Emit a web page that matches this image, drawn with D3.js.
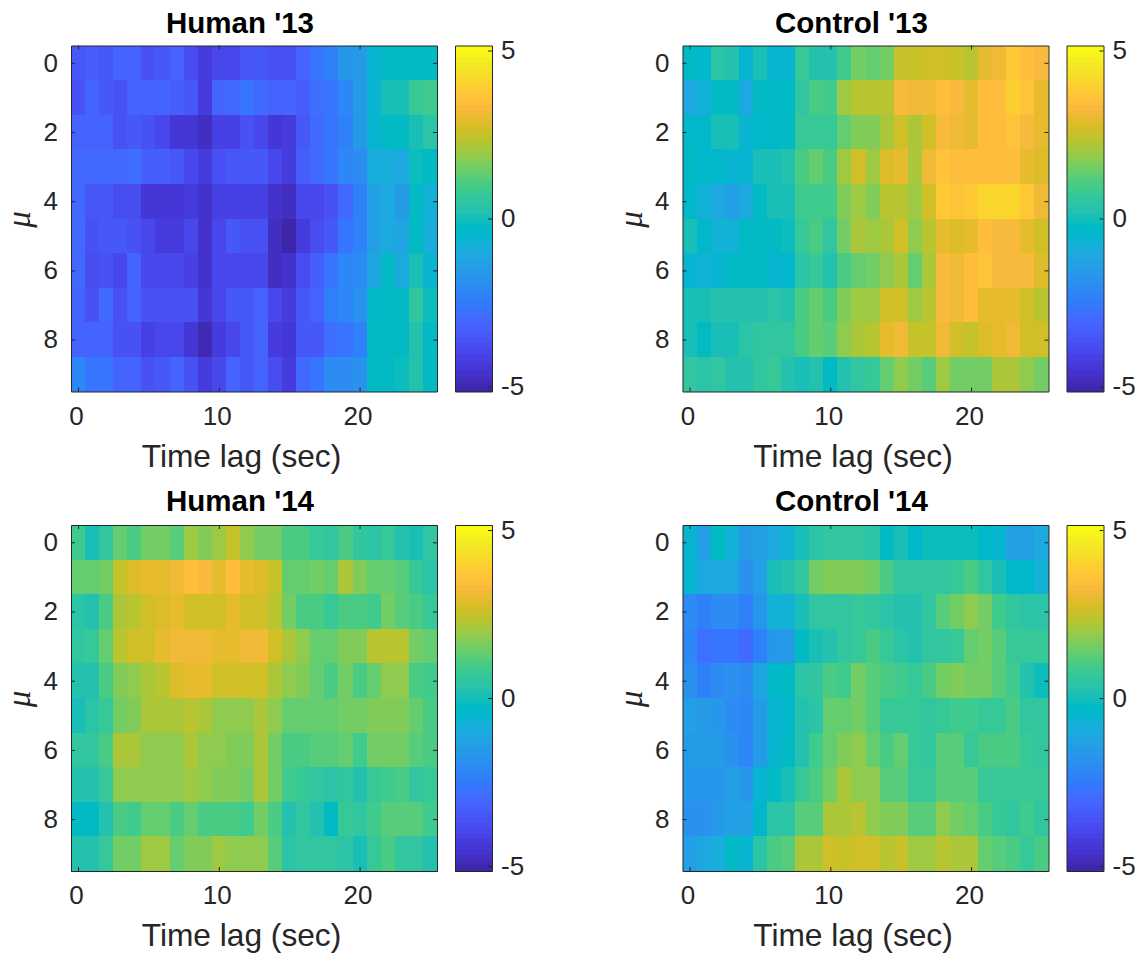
<!DOCTYPE html>
<html lang="en">
<head>
<meta charset="UTF-8">
<title>Time lag heatmaps</title>
<script src="https://d3js.org/d3.v7.min.js"></script>
<style>
    html, body { margin: 0; padding: 0; background: #fff; }
    svg { display: block; font-family: "Liberation Sans", Arial, sans-serif; }
    .tick text { fill: #262626; font-size: 26px; }
    .tick line, .domain { stroke: #262626; stroke-width: 1px; }
    .cell { shape-rendering: crispEdges; }
    .title { font-size: 29.5px; font-weight: bold; fill: #000; text-anchor: middle; }
    .label { font-size: 31.7px; fill: #262626; text-anchor: middle; }
    .mu { font-family: "Liberation Serif", serif; font-style: italic; font-size: 33px; fill: #262626; text-anchor: middle; }
</style>
</head>
<body>
<div id="chart"></div>
<script>
// parula, 64 levels
const parula = [[.2422,.1504,.6603],[.2504,.1650,.7076],[.2578,.1818,.7511],[.2647,.1978,.7952],[.2706,.2147,.8364],[.2751,.2342,.8710],[.2783,.2559,.8991],[.2803,.2782,.9221],[.2813,.3006,.9414],[.2810,.3228,.9579],[.2795,.3447,.9717],[.2760,.3667,.9829],[.2699,.3892,.9906],[.2602,.4123,.9952],[.2440,.4358,.9988],[.2206,.4603,.9973],[.1963,.4847,.9892],[.1834,.5074,.9798],[.1786,.5289,.9682],[.1764,.5499,.9520],[.1687,.5703,.9359],[.1540,.5902,.9218],[.1460,.6091,.9079],[.1380,.6276,.8973],[.1248,.6459,.8883],[.1113,.6635,.8763],[.0952,.6798,.8598],[.0689,.6948,.8394],[.0297,.7082,.8163],[.0036,.7203,.7917],[.0067,.7312,.7660],[.0433,.7411,.7394],[.0964,.7500,.7120],[.1408,.7584,.6842],[.1717,.7670,.6554],[.1938,.7758,.6251],[.2161,.7843,.5923],[.2470,.7918,.5567],[.2906,.7973,.5188],[.3406,.8008,.4789],[.3909,.8029,.4354],[.4456,.8024,.3909],[.5044,.7993,.3480],[.5616,.7942,.3045],[.6174,.7876,.2612],[.6720,.7793,.2227],[.7242,.7698,.1910],[.7738,.7598,.1646],[.8203,.7498,.1535],[.8634,.7406,.1596],[.9035,.7330,.1774],[.9393,.7288,.2100],[.9728,.7298,.2394],[.9956,.7434,.2371],[.9970,.7659,.2199],[.9952,.7893,.2028],[.9892,.8136,.1885],[.9786,.8386,.1766],[.9676,.8639,.1643],[.9610,.8890,.1537],[.9597,.9135,.1423],[.9628,.9373,.1265],[.9691,.9606,.1064],[.9769,.9839,.0805]]
    .map(c => d3.rgb(c[0] * 255, c[1] * 255, c[2] * 255).formatHex());

const lags = d3.range(26);
const mus = d3.range(10);
const xTicks = [0, 10, 20];
const yTicks = [0, 2, 4, 6, 8];
const barTicks = [-5, 0, 5];
const colorLimits = [-5.15, 5.15];

const human13 = [
    [-3.5,-3.3,-3.5,-3.2,-3.2,-3.7,-3.4,-3.1,-3.8,-4.2,-4.0,-4.0,-3.5,-3.5,-3.6,-3.6,-3.1,-2.6,-2.3,-1.7,-1.5,-0.5,-0.3,-0.3,-0.3,-0.3],
    [-3.7,-3.2,-3.4,-3.7,-3.1,-3.2,-3.2,-3.3,-3.5,-4.2,-3.2,-3.0,-2.6,-2.9,-3.2,-3.2,-3.3,-2.8,-2.6,-2.2,-1.6,-0.5,0.1,0.1,0.7,0.9],
    [-3.2,-3.2,-3.2,-3.7,-3.4,-3.7,-4.0,-4.4,-4.4,-4.8,-4.1,-4.1,-3.7,-4.0,-4.4,-4.2,-3.4,-2.9,-2.7,-2.4,-1.6,-0.6,-0.3,-0.3,0.1,0.4],
    [-2.9,-3.0,-3.0,-3.0,-2.8,-3.3,-3.3,-3.5,-3.9,-4.3,-3.6,-3.5,-3.4,-3.4,-4.0,-4.2,-3.3,-2.9,-2.7,-2.2,-2.0,-0.9,-0.9,-1.0,-0.1,-0.3],
    [-3.0,-3.4,-3.4,-3.8,-3.8,-4.4,-4.4,-4.5,-4.2,-4.6,-4.1,-4.1,-4.1,-4.1,-4.6,-4.8,-4.0,-4.0,-3.7,-2.9,-2.3,-1.4,-1.1,-1.6,-0.2,-0.8],
    [-3.0,-3.7,-3.5,-3.5,-3.7,-4.0,-4.2,-4.2,-4.0,-4.6,-3.9,-3.5,-3.7,-3.7,-4.8,-5.0,-4.2,-3.8,-3.4,-2.7,-2.3,-1.3,-1.1,-1.2,-0.2,-0.9],
    [-3.0,-3.8,-3.6,-3.9,-3.1,-3.9,-3.9,-3.9,-4.1,-4.6,-4.0,-4.0,-3.9,-3.9,-4.8,-4.6,-3.8,-3.3,-2.6,-2.1,-2.0,-1.2,-0.2,-1.0,0.1,-0.6],
    [-3.2,-3.6,-3.0,-3.7,-3.1,-3.6,-3.6,-3.6,-3.6,-4.4,-4.0,-3.5,-3.5,-3.1,-4.0,-4.2,-3.4,-3.2,-2.4,-2.1,-1.9,-0.4,-0.2,-0.3,0.6,-0.1],
    [-3.1,-3.2,-3.2,-3.6,-3.6,-4.1,-3.9,-3.9,-4.5,-4.9,-4.3,-4.0,-3.4,-3.2,-4.2,-4.4,-3.5,-3.5,-2.8,-2.7,-2.3,-0.3,-0.2,-0.2,0.3,-0.2],
    [-2.1,-2.7,-2.7,-3.1,-3.2,-3.6,-3.4,-3.1,-3.7,-4.3,-3.9,-3.2,-3.5,-3.1,-3.8,-4.2,-3.0,-2.6,-2.0,-2.0,-1.9,-0.3,-0.2,-0.1,0.3,-0.2]
];
const control13 = [
    [-0.2,-0.4,0.4,0.2,-0.6,0.0,-0.6,-0.5,0.7,0.3,0.3,0.9,1.5,1.3,1.5,2.5,2.5,2.7,2.7,2.5,2.3,3.0,3.2,3.8,3.5,3.3],
    [-1.0,-0.7,-0.2,-0.2,-1.0,-0.2,-0.4,-0.3,0.6,1.1,0.9,2.0,2.4,2.4,2.4,3.3,3.1,3.1,3.4,3.3,3.0,3.5,3.5,4.0,3.7,3.0],
    [-0.4,-0.4,0.1,0.1,-0.6,-0.4,-0.4,-0.3,0.7,0.7,0.7,1.4,1.7,1.7,2.2,2.6,2.1,2.6,3.3,3.1,2.9,3.5,3.5,3.7,3.3,2.9],
    [-0.2,-0.4,-0.4,-0.6,-0.6,0.0,0.0,0.3,1.0,1.3,1.0,2.0,2.7,2.0,2.8,2.9,2.1,3.1,3.7,3.5,3.5,3.5,3.5,3.5,2.9,2.8],
    [-0.4,-0.7,-1.0,-1.3,-1.0,-0.2,0.0,0.1,0.9,0.9,0.9,1.7,2.0,1.7,2.3,2.4,2.0,2.7,3.8,3.6,3.8,4.1,4.1,4.1,3.8,3.2],
    [0.1,-0.4,-0.7,-0.7,-0.2,-0.2,-0.2,-0.1,0.7,1.0,0.6,1.6,2.1,2.0,2.2,2.6,1.9,2.3,3.0,2.8,3.0,3.5,3.3,3.3,2.9,2.6],
    [-0.5,-0.7,-0.5,-0.3,-0.3,-0.3,-0.5,-0.4,0.4,0.7,0.3,1.1,1.3,1.5,1.9,2.2,1.3,2.1,3.3,3.1,3.5,3.7,3.3,3.3,3.3,2.8],
    [0.1,0.1,0.2,0.2,0.2,0.3,0.4,0.3,1.1,1.4,1.0,1.7,2.0,2.0,2.6,2.7,2.0,2.3,3.3,3.1,3.5,3.0,3.0,3.0,2.7,2.4],
    [0.1,-0.2,0.0,0.0,0.4,0.6,0.6,0.6,1.1,1.4,1.2,1.9,2.2,2.4,3.0,3.2,2.5,2.5,3.1,2.7,2.5,2.8,2.9,3.2,2.7,2.6],
    [0.6,0.4,0.5,0.2,0.2,0.6,0.7,0.3,0.1,0.2,-0.2,0.3,0.5,0.7,1.3,1.9,1.5,1.2,2.0,1.6,1.6,1.6,2.2,2.2,1.9,1.5]
];
const human14 = [
    [0.9,0.1,0.5,1.3,1.1,1.5,1.5,1.2,2.0,1.7,2.0,2.5,1.9,1.5,1.5,1.0,1.0,0.8,0.5,1.1,0.5,0.4,0.7,0.3,0.1,0.5],
    [1.3,1.3,1.6,2.5,2.8,3.0,3.0,3.2,3.4,3.3,3.0,3.5,3.0,2.8,2.5,1.4,1.3,1.5,1.3,2.2,1.7,1.3,1.3,1.2,0.8,0.4],
    [0.4,0.3,1.0,2.2,2.4,2.6,2.8,3.0,2.7,2.7,2.7,3.0,2.6,2.6,2.3,1.6,1.1,1.1,0.8,1.1,1.0,0.9,1.5,1.2,1.0,0.8],
    [0.5,0.7,1.4,2.4,2.6,2.6,2.9,3.1,3.2,3.2,3.0,3.0,3.1,3.1,2.7,2.2,1.9,1.4,1.3,1.7,1.7,2.3,2.3,2.3,1.6,1.3],
    [0.3,0.3,1.0,1.7,1.9,2.2,2.4,2.8,3.0,2.9,2.7,2.7,2.7,2.7,2.2,1.8,1.7,1.3,1.0,1.6,1.0,1.4,1.8,1.8,1.1,0.9],
    [0.1,0.4,0.8,1.5,1.7,2.2,2.2,2.2,2.4,2.2,1.9,1.9,1.9,2.2,1.9,1.4,1.4,1.4,1.4,1.5,1.5,1.7,1.7,1.7,1.3,1.1],
    [0.5,0.5,1.1,2.1,2.1,1.9,1.9,1.9,2.2,1.9,1.9,1.7,1.7,2.1,1.5,1.0,1.0,1.2,1.2,1.3,0.9,1.6,1.6,1.6,1.2,1.1],
    [0.2,0.3,0.8,1.8,1.8,1.9,1.9,1.9,2.0,1.9,1.7,1.7,1.5,2.1,1.5,0.9,0.7,0.6,0.4,0.5,0.2,0.7,0.9,1.0,0.5,0.8],
    [-0.2,-0.2,0.3,1.1,0.9,1.3,1.3,1.1,1.3,1.1,1.1,1.0,0.9,1.5,1.0,0.3,0.6,0.2,-0.2,0.7,0.6,0.9,1.2,1.2,1.2,0.9],
    [0.2,0.2,0.8,1.5,1.5,2.0,2.0,1.3,1.7,1.7,2.0,1.9,1.8,1.9,1.2,0.4,0.5,0.5,0.5,0.4,0.1,0.8,1.0,0.6,0.6,0.3]
];
const control14 = [
    [-0.6,-1.3,-0.2,-0.8,-1.6,-1.4,-1.0,-0.8,0.1,0.4,0.6,0.6,0.5,0.4,-0.2,0.0,-0.4,-0.1,-0.1,-0.1,-0.1,-0.4,-0.6,-1.3,-1.3,-1.0],
    [-0.5,-1.0,-1.0,-1.0,-1.8,-1.3,0.0,0.3,0.6,1.5,1.7,1.7,1.7,1.5,1.0,0.6,0.5,0.5,0.6,0.8,1.0,0.6,0.1,-0.4,-0.4,-0.8],
    [-2.0,-2.3,-2.0,-2.0,-2.4,-1.7,-0.7,-0.7,0.1,0.5,0.6,0.6,0.8,0.6,0.4,0.3,0.3,0.5,1.2,1.5,1.8,1.5,0.9,0.5,0.4,0.4],
    [-2.2,-2.8,-2.7,-2.7,-2.9,-2.3,-1.7,-1.6,-0.2,0.0,0.2,0.5,0.8,1.0,0.7,0.4,0.3,0.5,0.6,0.8,1.3,1.6,1.2,0.7,0.7,0.8],
    [-1.9,-2.3,-2.0,-1.9,-2.0,-1.2,-0.4,-0.3,0.4,0.6,1.1,0.9,1.6,1.2,1.1,0.9,0.8,1.0,1.5,1.7,1.6,1.6,1.2,0.9,0.3,-0.1],
    [-1.3,-1.5,-1.7,-2.0,-2.1,-1.6,-0.5,-0.4,0.3,0.4,1.3,1.3,1.6,1.2,0.8,0.8,0.7,0.5,0.8,0.9,0.9,0.8,0.8,1.0,0.5,0.5],
    [-1.6,-1.6,-1.6,-1.8,-2.2,-1.5,-0.6,-0.3,0.3,0.9,1.3,1.7,1.9,1.4,1.0,1.3,0.8,0.5,1.2,1.2,0.8,1.1,1.1,1.0,0.8,0.6],
    [-1.7,-1.7,-1.7,-1.3,-1.7,-0.5,-0.3,0.1,0.8,1.0,1.6,2.1,1.9,1.8,1.2,1.2,0.8,0.8,1.2,1.2,1.2,0.8,0.8,0.8,0.8,0.8],
    [-1.9,-1.9,-1.6,-1.3,-1.4,-0.4,0.4,0.4,1.2,1.2,2.1,2.1,2.3,1.8,1.7,1.7,1.2,1.2,1.8,1.5,1.3,1.0,0.8,0.6,0.9,0.6],
    [-1.4,-1.1,-0.9,-0.3,-0.5,0.4,1.1,1.2,2.1,2.1,2.7,2.5,2.7,2.7,2.3,2.5,2.0,2.0,2.3,2.1,2.1,1.3,1.2,1.0,0.8,1.1]
];

const titles = ["Human '13", "Control '13", "Human '14", "Control '14"];
const panels = [human13, control13, human14, control14];
const panelX = [71, 682.5, 71, 682.5];
const panelY = [45.5, 45.5, 525, 525];
const titleGap = [13, 13, 14, 14];

const plotW = 366, plotH = 346, barGap = 18, barW = 37;

const color = d3.scaleQuantize().domain(colorLimits).range(parula);

const svg = d3.select("#chart").append("svg")
    .attr("width", 1147).attr("height", 955);

panels.forEach((values, p) => {
    const g = svg.append("g").attr("transform", `translate(${panelX[p]},${panelY[p]})`);

    const x = d3.scaleLinear().domain([-0.5, 25.5]).range([0, plotW]);
    const y = d3.scaleLinear().domain([-0.5, 9.5]).range([0, plotH]);

    // one rect per cell
    mus.forEach(m => {
        g.selectAll(null)
            .data(lags)
            .enter().append("rect")
            .attr("class", "cell")
            .attr("x", d => x(d - 0.5))
            .attr("y", y(m - 0.5))
            .attr("width", x(1) - x(0) + 0.5)
            .attr("height", y(1) - y(0) + 0.5)
            .attr("fill", d => color(values[m][d]));
    });

    // matlab style box: ticks point inwards on all four sides
    const xAxis = g.append("g").attr("transform", `translate(0,${plotH})`)
        .call(d3.axisBottom(x).tickValues(xTicks).tickSizeInner(-4).tickSizeOuter(0).tickPadding(15));
    xAxis.selectAll("text").attr("dx", -2);
    g.append("g")
        .call(d3.axisTop(x).tickValues(xTicks).tickSizeInner(-4).tickSizeOuter(0).tickFormat(""));
    g.append("g")
        .call(d3.axisLeft(y).tickValues(yTicks).tickSizeInner(-4).tickSizeOuter(0).tickPadding(13));
    g.append("g").attr("transform", `translate(${plotW},0)`)
        .call(d3.axisRight(y).tickValues(yTicks).tickSizeInner(-4).tickSizeOuter(0).tickFormat(""));

    g.append("text").attr("class", "title")
        .attr("x", plotW / 2 - 14).attr("y", -titleGap[p])
        .text(titles[p]);
    g.append("text").attr("class", "label")
        .attr("x", plotW / 2 - 12.5).attr("y", plotH + 75)
        .text("Time lag (sec)");
    g.append("text").attr("class", "mu")
        .attr("transform", `translate(-41,${plotH / 2 + 1}) rotate(-90)`)
        .text("\u03bc");

    // colorbar
    const bar = g.append("g").attr("transform", `translate(${plotW + barGap},0)`);
    const barY = d3.scaleLinear().domain(colorLimits).range([plotH, 0]);
    const levels = d3.scaleBand().domain(d3.range(parula.length)).range([plotH, 0]);
    bar.selectAll("rect")
        .data(parula)
        .enter().append("rect")
        .attr("class", "cell")
        .attr("y", (d, i) => levels(i))
        .attr("width", barW)
        .attr("height", levels.bandwidth() + 0.5)
        .attr("fill", d => d);
    bar.append("g").attr("transform", `translate(${barW},0)`)
        .call(d3.axisRight(barY).tickValues(barTicks).tickFormat(d => String(d)).tickSizeInner(-4).tickSizeOuter(0).tickPadding(9));
    bar.append("g")
        .call(d3.axisLeft(barY).tickValues([]).tickSizeOuter(0));
    bar.append("g")
        .call(d3.axisTop(d3.scaleLinear().range([0, barW])).tickValues([]).tickSizeOuter(0));
    bar.append("g").attr("transform", `translate(0,${plotH})`)
        .call(d3.axisBottom(d3.scaleLinear().range([0, barW])).tickValues([]).tickSizeOuter(0));
});
</script>
</body>
</html>
